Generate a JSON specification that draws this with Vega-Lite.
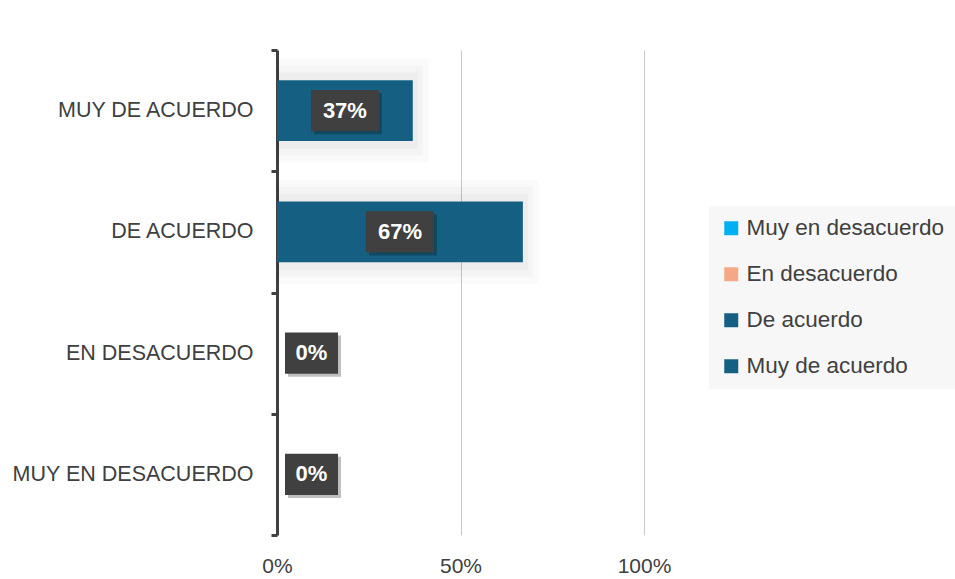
{
  "$schema": "https://vega.github.io/schema/vega-lite/v6.json",
  "width": 367,
  "height": 485,
  "autosize": {"type": "none"},
  "padding": {"left": 277, "top": 50, "right": 311, "bottom": 44},
  "background": "white",
  "config": {"view": {"stroke": null}, "font": "Liberation Sans"},
  "data": {
    "values": [
      {"cat": "MUY DE ACUERDO", "series": "Muy de acuerdo", "value": 0.37},
      {"cat": "DE ACUERDO", "series": "De acuerdo", "value": 0.67},
      {"cat": "EN DESACUERDO", "series": "En desacuerdo", "value": 0},
      {"cat": "MUY EN DESACUERDO", "series": "Muy en desacuerdo", "value": 0}
    ]
  },
  "transform": [
    {"calculate": "datum.value == 0 ? 0.094 : datum.value / 2", "as": "labelPos"}
  ],
  "encoding": {
    "y": {
      "field": "cat",
      "type": "nominal",
      "sort": ["MUY DE ACUERDO", "DE ACUERDO", "EN DESACUERDO", "MUY EN DESACUERDO"],
      "scale": {"paddingInner": 0, "paddingOuter": 0},
      "axis": {
        "title": null,
        "labelFontSize": 21.5,
        "labelColor": "#404040",
        "labelPadding": 18,
        "domainColor": "#404040",
        "domainWidth": 3,
        "tickColor": "#404040",
        "tickWidth": 3,
        "tickSize": 6,
        "tickBand": "extent",
        "grid": false,
        "labelLimit": 400
      }
    }
  },
  "layer": [
    {
      "transform": [{"filter": "datum.value > 0"}],
      "mark": {"type": "bar", "color": "#000000", "opacity": 0.018, "height": {"band": 0.85}, "xOffset": 16},
      "encoding": {"x": {"field": "value", "type": "quantitative", "stack": null}, "x2": {"datum": 0}}
    },
    {
      "transform": [{"filter": "datum.value > 0"}],
      "mark": {"type": "bar", "color": "#000000", "opacity": 0.022, "height": {"band": 0.74}, "xOffset": 10},
      "encoding": {"x": {"field": "value", "type": "quantitative", "stack": null}, "x2": {"datum": 0}}
    },
    {
      "transform": [{"filter": "datum.value > 0"}],
      "mark": {"type": "bar", "color": "#000000", "opacity": 0.028, "height": {"band": 0.63}, "xOffset": 5},
      "encoding": {"x": {"field": "value", "type": "quantitative", "stack": null}, "x2": {"datum": 0}}
    },
    {
      "mark": {"type": "bar", "height": {"band": 0.5}},
      "encoding": {
        "x": {
          "field": "value",
          "type": "quantitative",
          "scale": {"domain": [0, 1], "nice": false},
          "axis": {
            "title": null,
            "values": [0, 0.5, 1],
            "format": ".0%",
            "domain": false,
            "ticks": false,
            "grid": true,
            "gridColor": "#c8c8c8",
            "gridWidth": 1,
            "labelFontSize": 21,
            "labelColor": "#404040",
            "labelPadding": 20,
            "labelFlush": false
          }
        },
        "color": {
          "field": "series",
          "type": "nominal",
          "scale": {
            "domain": ["Muy en desacuerdo", "En desacuerdo", "De acuerdo", "Muy de acuerdo"],
            "range": ["#00b0f0", "#f4a885", "#156082", "#156082"]
          },
          "legend": {
            "title": null,
            "orient": "none",
            "legendX": 432,
            "legendY": 156,
            "fillColor": "#f7f7f7",
            "padding": 11,
            "symbolType": "square",
            "symbolSize": 196,
            "symbolStrokeWidth": 0,
            "labelFontSize": 22.5,
            "labelColor": "#404040",
            "labelOffset": 4,
            "rowPadding": 23,
            "labelLimit": 400
          }
        }
      }
    },
    {
      "mark": {"type": "point", "filled": true, "color": "#000000", "opacity": 0.25, "xOffset": 3, "yOffset": 3},
      "encoding": {
        "x": {"field": "labelPos", "type": "quantitative"},
        "shape": {
          "condition": {"test": "datum.value > 0", "value": "M-1,-0.603H1V0.603H-1Z"},
          "value": "M-1,-0.774H1V0.774H-1Z"
        },
        "size": {"condition": {"test": "datum.value > 0", "value": 4624}, "value": 2809}
      }
    },
    {
      "mark": {"type": "point", "filled": true, "color": "#404040", "opacity": 1},
      "encoding": {
        "x": {"field": "labelPos", "type": "quantitative"},
        "shape": {
          "condition": {"test": "datum.value > 0", "value": "M-1,-0.603H1V0.603H-1Z"},
          "value": "M-1,-0.774H1V0.774H-1Z"
        },
        "size": {"condition": {"test": "datum.value > 0", "value": 4624}, "value": 2809}
      }
    },
    {
      "mark": {"type": "text", "color": "white", "fontWeight": "bold", "fontSize": 22, "align": "center", "baseline": "middle"},
      "encoding": {
        "x": {"field": "labelPos", "type": "quantitative"},
        "text": {"field": "value", "type": "quantitative", "format": ".0%"}
      }
    }
  ]
}
